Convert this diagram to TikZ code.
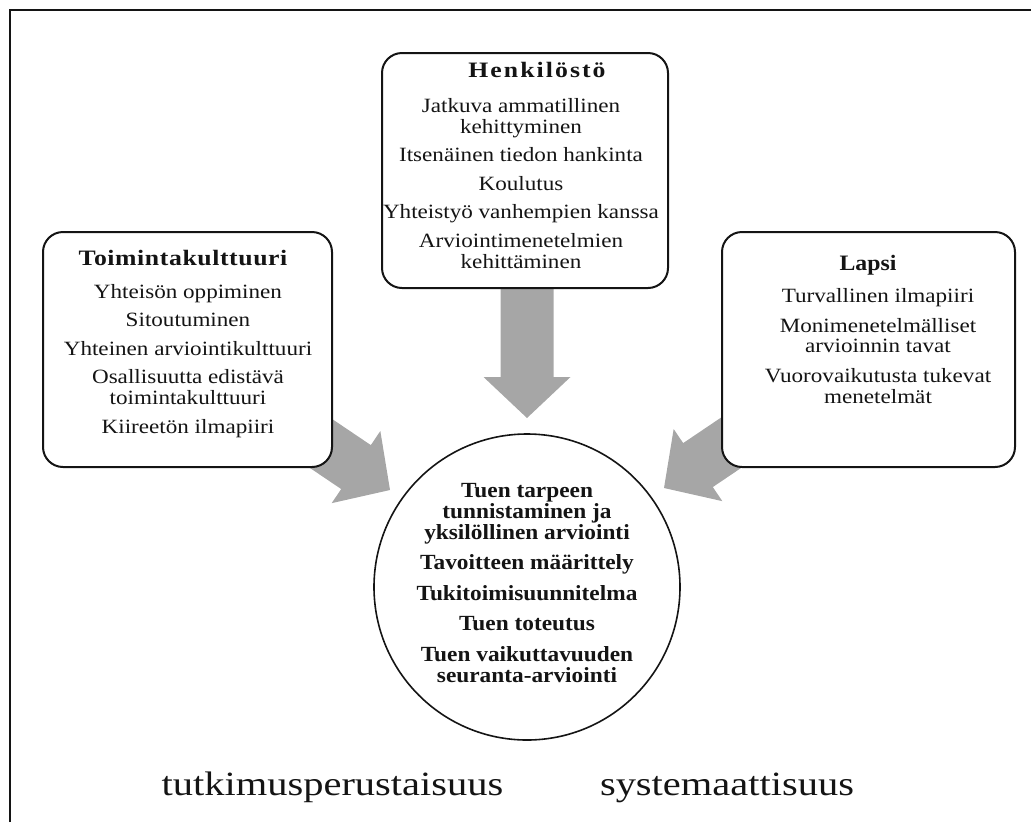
\documentclass[tikz,border=0pt]{standalone}
\usepackage{fontspec}
\setmainfont{Liberation Serif}
\usetikzlibrary{calc}

\definecolor{arrowgray}{RGB}{166,166,166}
\definecolor{ink}{RGB}{20,20,20}

% fixed baselines regardless of glyph heights
\newcommand{\fixedlines}{\setlength{\lineskiplimit}{-100pt}\setlength{\lineskip}{0pt}}

\tikzset{
  panel/.style={draw=ink, line width=1.5pt, rounded corners=15pt, fill=white,
                minimum height=176.25pt},
  hub/.style={draw=ink, line width=1.2pt, circle, fill=white,
              minimum size=229.5pt, inner sep=0pt},
  heading/.style={anchor=base, text=ink, inner sep=0pt, transform shape,
                  font=\fontsize{16.5}{17}\selectfont\bfseries},
  itemlist/.style={anchor=base, align=center, text=ink, inner sep=0pt, transform shape,
                   font=\fontsize{15.2}{15.4}\selectfont\fixedlines},
  hubtext/.style={anchor=base, align=center, text=ink, inner sep=0pt, transform shape,
                  font=\fontsize{16.2}{15.6}\selectfont\bfseries\fixedlines},
  principle/.style={anchor=base, text=ink, inner sep=0pt, transform shape,
                    font=\fontsize{25.5}{28}\selectfont},
  blockarrow/.style={fill=arrowgray, draw=none}
}

% a broad gray arrow whose tip sits at #1, turned by #2 degrees
\newcommand{\widearrow}[2]{%
  \path[blockarrow, shift={(#1)}, rotate=#2]
    (-138,-26.5) -- (-41,-26.5) -- (-41,-43.5) -- (0,0)
    -- (-41,43.5) -- (-41,26.5) -- (-138,26.5) -- cycle;}

\begin{document}
\begin{tikzpicture}[x=0.75pt, y=-0.75pt]
\useasboundingbox (0,0) rectangle (1031,822);

% frame
\draw[ink, line width=1.5pt] (10,822) -- (10,10) -- (1031,10);

% tips of the three arrows
\coordinate (tipTop) at (527,418);
\coordinate (tipLeft) at (390,490);
\coordinate (tipRight) at (664,488);

\widearrow{tipTop}{-90}
\widearrow{tipLeft}{-34}
\widearrow{tipRight}{-146}

% boxes
\node[panel, minimum width=214.5pt] (staff) at (525,170.5) {};
\node[panel, minimum width=216.75pt] (culture) at (187.5,349.5) {};
\node[panel, minimum width=219.75pt] (child) at (868.5,349.5) {};
\node[hub] (process) at (527,587) {};

% Henkilöstö (lists are placed by their last baseline; type set wide)
\begin{scope}[shift={(537,77)}, xscale=1.17]
  \node[heading] (staffT) at (0,0) {\addfontfeatures{LetterSpace=8}Henkilöstö};
\end{scope}
\begin{scope}[shift={(521,268)}, xscale=1.14]
  \node[itemlist] (staffL) at (0,0) {Jatkuva ammatillinen\\ kehittyminen\\[6pt]
    Itsenäinen tiedon hankinta\\[6pt] Koulutus\\[6pt]
    Yhteistyö vanhempien kanssa\\[6pt] Arviointimenetelmien\\ kehittäminen};
\end{scope}

% Toimintakulttuuri
\begin{scope}[shift={(183,265)}, xscale=1.17]
  \node[heading] (cultureT) at (0,0) {\addfontfeatures{LetterSpace=2.3}Toimintakulttuuri};
\end{scope}
\begin{scope}[shift={(188,433)}, xscale=1.14]
  \node[itemlist] (cultureL) at (0,0) {Yhteisön oppiminen\\[6pt] Sitoutuminen\\[6pt]
    Yhteinen arviointikulttuuri\\[6pt] Osallisuutta edistävä\\ toimintakulttuuri\\[6pt]
    Kiireetön ilmapiiri};
\end{scope}

% Lapsi
\begin{scope}[shift={(868,270)}, xscale=1.08]
  \node[heading] (childT) at (0,0) {Lapsi};
\end{scope}
\begin{scope}[shift={(878,403)}, xscale=1.14]
  \node[itemlist] (childL) at (0,0) {Turvallinen ilmapiiri\\[7pt]
    Monimenetelmälliset\\ arvioinnin tavat\\[7pt]
    Vuorovaikutusta tukevat\\ menetelmät};
\end{scope}

% process in the circle
\begin{scope}[shift={(527,682)}, xscale=1.08]
  \node[hubtext] (processL) at (0,0) {Tuen tarpeen\\ tunnistaminen ja\\ yksilöllinen arviointi\\[7.3pt]
    Tavoitteen määrittely\\[7.3pt] Tukitoimisuunnitelma\\[7.3pt] Tuen toteutus\\[7.3pt]
    Tuen vaikuttavuuden\\ seuranta-arviointi};
\end{scope}

% principles
\begin{scope}[shift={(332.5,795)}, xscale=1.19]
  \node[principle] (research) at (0,0) {tutkimusperustaisuus};
\end{scope}
\begin{scope}[shift={(727,795)}, xscale=1.19]
  \node[principle] (system) at (0,0) {systemaattisuus};
\end{scope}
\end{tikzpicture}
\end{document}
